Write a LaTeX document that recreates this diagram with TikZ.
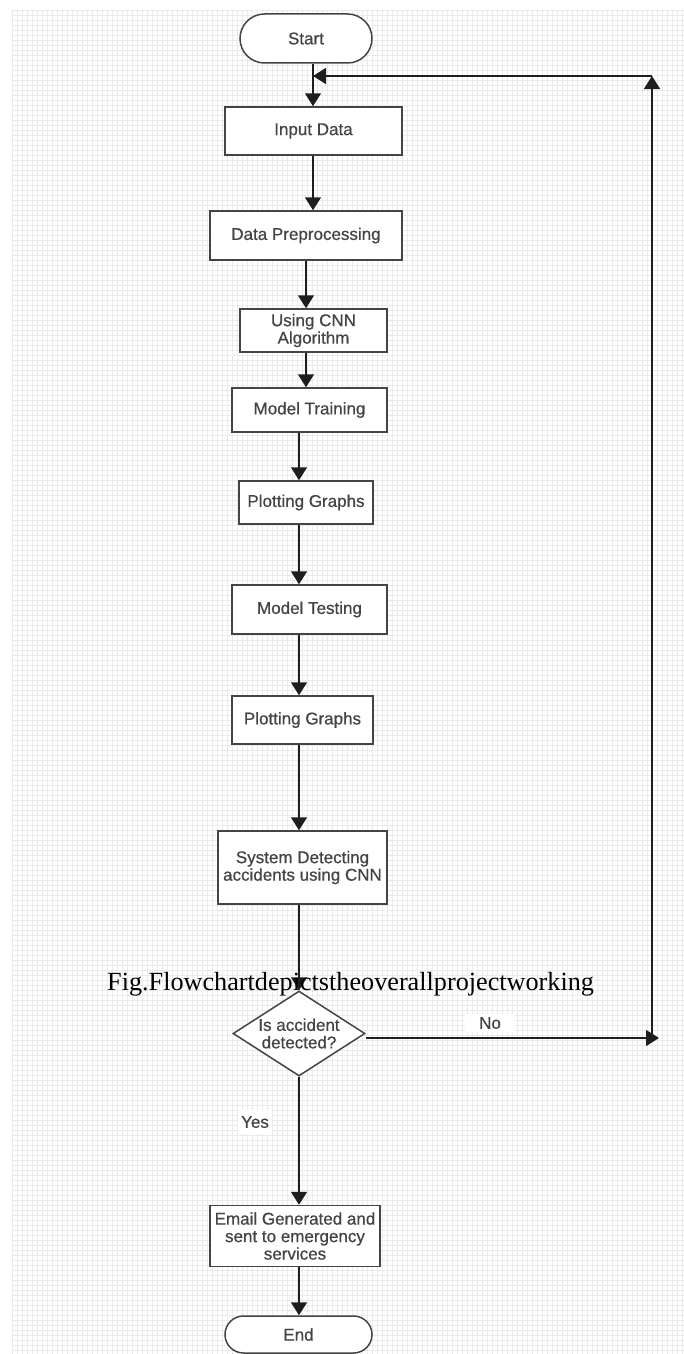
\documentclass[tikz,border=0pt]{standalone}
\usepackage{fontspec}
\setmainfont{Liberation Serif}
\setsansfont{Liberation Sans}[FakeBold=0.6]
\newfontfamily\boxfont{Liberation Sans}[FakeBold=0.6]
\usetikzlibrary{arrows.meta,shapes.geometric,shapes.misc}
\definecolor{inkgray}{RGB}{68,68,68}
\definecolor{linegray}{RGB}{30,30,30}
\definecolor{gridgray}{RGB}{234,234,234}
\begin{document}
\begin{tikzpicture}[x=1pt,y=-1pt,
    box/.style={draw=inkgray, line width=1.5pt, fill=white, inner sep=1pt,
      align=center, text=inkgray, font=\boxfont\fontsize{17}{17.5}\selectfont},
    terminal/.style={box, rounded rectangle},
    decision/.style={box, diamond, aspect=1.55, inner sep=0pt},
    flow/.style={draw=linegray, line width=1.6pt, -{Triangle[width=16pt,length=13pt]}},
    tag/.style={fill=white, text=inkgray, font=\boxfont\fontsize{17}{18}\selectfont},
    gridline/.style={draw=gridgray, line width=0.4pt}]
  \useasboundingbox (0,0) rectangle (684,1354);
  % background grid
  \foreach \gx in {12,17,...,684} \draw[gridline] (\gx,10) -- (\gx,1354);
  \foreach \gy in {10,15,...,1354} \draw[gridline] (12,\gy) -- (684,\gy);

  % spine columns and loop corners
  \coordinate (colA) at (313,0);
  \coordinate (colB) at (306,0);
  \coordinate (colC) at (299,0);
  \coordinate (merge) at (313,76);
  \coordinate (looptop) at (652,76);
  \coordinate (loopbot) at (652,1038);
  \coordinate (noend) at (659,1038);

  \node[terminal, minimum width=134, minimum height=49] (start) at (306,38.5) {Start};
  \node[box, minimum width=177, minimum height=48] (input) at (313.5,131) {Input Data};
  \node[box, minimum width=192, minimum height=49] (prep) at (306,235.5) {Data Preprocessing};
  \node[box, minimum width=147, minimum height=43] (cnn) at (313.5,330.5) {Using CNN\\Algorithm};
  \node[box, minimum width=155, minimum height=44] (train) at (309.5,410) {Model Training};
  \node[box, minimum width=134, minimum height=43] (plotA) at (306,502.5) {Plotting Graphs};
  \node[box, minimum width=155, minimum height=49] (test) at (309.5,609.5) {Model Testing};
  \node[box, minimum width=141, minimum height=48] (plotB) at (302.5,720) {Plotting Graphs};
  \node[box, minimum width=169, minimum height=73] (detect) at (302.5,867.5) {System Detecting\\accidents using CNN};
  \node[decision, minimum width=132, minimum height=85] (decide) at (299,1033.5) {Is accident\\detected?};
  \node[box, minimum width=170, minimum height=61, inner sep=0pt] (email) at (295,1236) {Email Generated and\\sent to emergency\\services};
  \node[terminal, minimum width=149, minimum height=37] (end) at (298.5,1334.5) {End};

  \draw[flow] (colA |- start.south) -- (colA |- input.north);
  \draw[flow] (colA |- input.south) -- (colA |- prep.north);
  \draw[flow] (colB |- prep.south) -- (colB |- cnn.north);
  \draw[flow] (colB |- cnn.south) -- (colB |- train.north);
  \draw[flow] (colC |- train.south) -- (colC |- plotA.north);
  \draw[flow] (colC |- plotA.south) -- (colC |- test.north);
  \draw[flow] (colC |- test.south) -- (colC |- plotB.north);
  \draw[flow] (colC |- plotB.south) -- (colC |- detect.north);
  \draw[flow] (colC |- detect.south) -- (decide.north);
  \draw[flow] (decide.south) -- (colC |- email.north);
  \draw[flow] (colC |- email.south) -- (colC |- end.north);

  % No branch back to the top
  \draw[flow] (decide.east |- noend) -- (noend);
  \draw[flow] (loopbot) -- (looptop);
  \draw[flow] (looptop) -- (merge);

  \node[tag, inner xsep=14pt, inner ysep=3pt] (nolabel) at (490,1023) {No};
  \node[tag, inner ysep=6pt] (yeslabel) at (255,1122) {Yes};

  \node[anchor=base west, inner sep=0pt, font=\fontsize{26.2}{30}\selectfont] (caption) at (107,990)
    {Fig.Flowchartdepictstheoverallprojectworking};
\end{tikzpicture}
\end{document}
